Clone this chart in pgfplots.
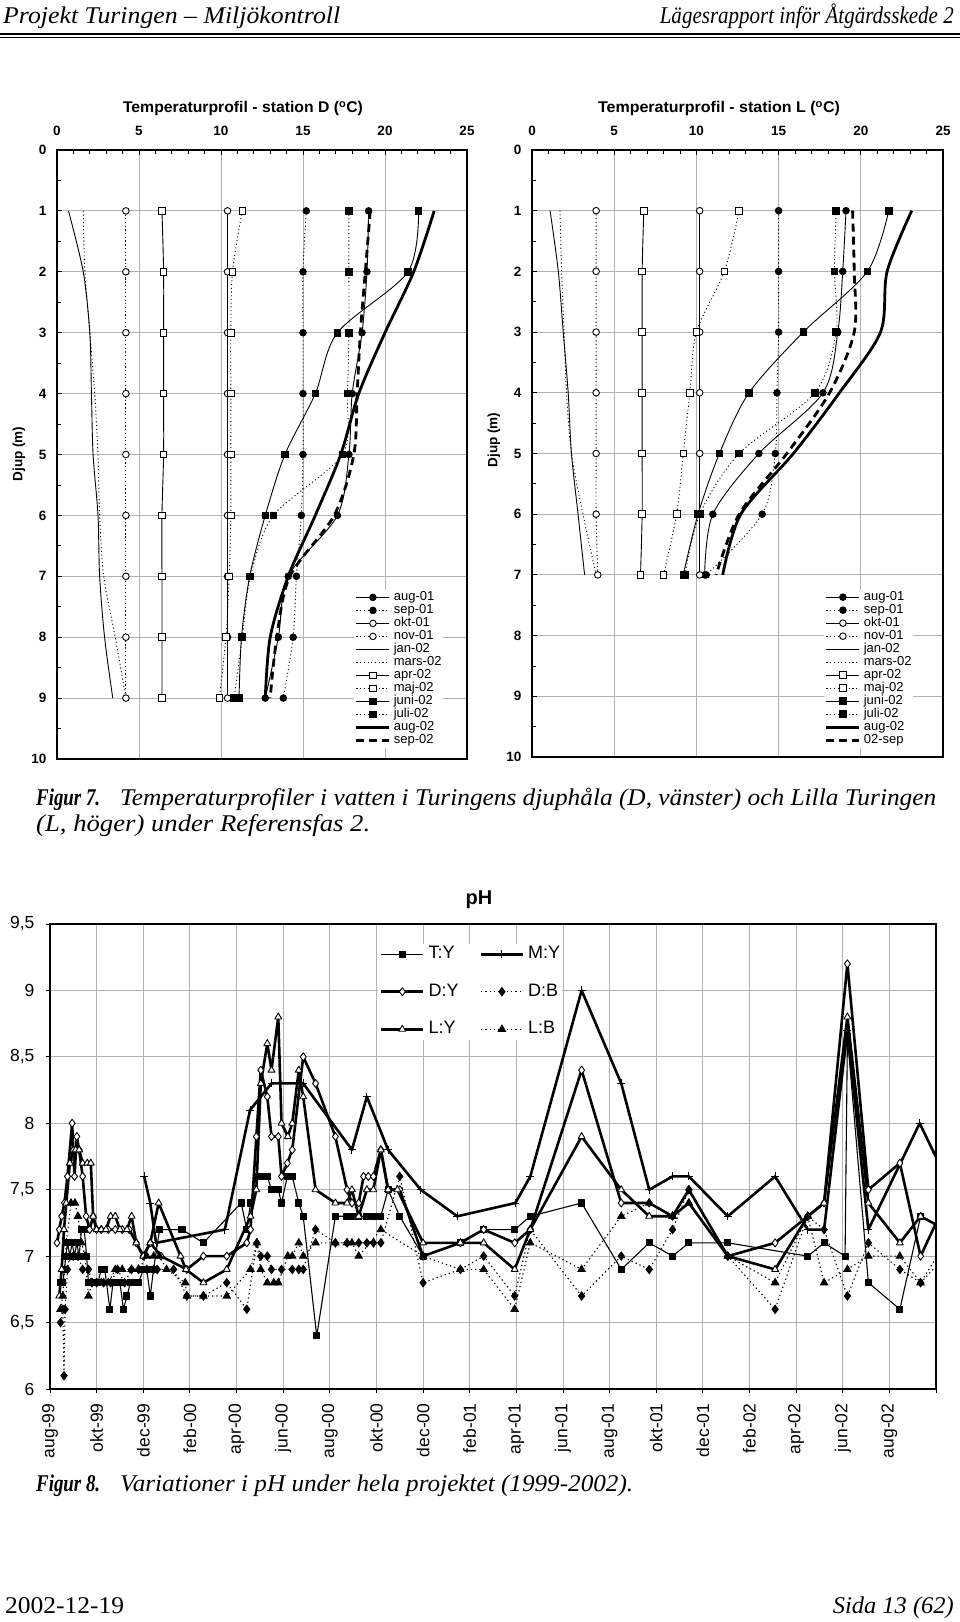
\documentclass[border=0pt]{standalone}
\usepackage{pgfplots}
\pgfplotsset{compat=1.18}
\usepackage{fontspec}
\setmainfont{Liberation Serif}
\newfontfamily\arial{Liberation Sans}
\newlength\fitlen
\newcommand\fitto[2]{\settowidth\fitlen{#2}\pgfmathsetmacro\fitsf{#1/\fitlen}\scalebox{\fitsf}[1]{#2}}
\newcommand\pf{\fontsize{24}{28}\selectfont}

\pgfplotsset{
  tempaxis/.style={
    scale only axis, anchor=south west,
    xmin=0, xmax=25, ymin=0, ymax=10, y dir=reverse,
    xtick={0,5,...,25}, ytick={0,1,...,10},
    minor x tick num=4, minor y tick num=1,
    xtick pos=right, xticklabel pos=right, ytick pos=left,
    tick align=inside, major tick length=5pt, minor tick length=4pt,
    grid=major, major grid style={black!30, line width=0.9pt},
    axis line style={line width=1.4pt},
    tick style={black, line width=0.8pt},
    ticklabel style={font=\arial\bfseries\fontsize{13.5}{14}\selectfont},
    /pgf/number format/assume math mode=true,
    xticklabel shift=11pt, yticklabel shift=7pt,
    legend cell align=left,
    legend image code/.code={\draw[mark repeat=2,mark phase=2,#1] plot coordinates {(0pt,0pt) (16.5pt,0pt) (33pt,0pt)};},
    legend style={anchor=north west, draw=none, fill=white, inner sep=1pt,
      font=\arial\fontsize{13}{13}\selectfont, row sep=0pt,
      nodes={inner sep=0pt, text height=9.5pt, text depth=3.5pt},
      /tikz/every odd column/.append style={column sep=3pt}},
  },
  sol/.style={black, line width=0.9pt, smooth, mark size=3.3pt},
  dot/.style={black, line width=0.9pt, dash pattern=on 1.1pt off 2.6pt, smooth, mark size=3.3pt},
  thk/.style={black, line width=2.8pt, smooth},
  TY/.style={black, line width=1.1pt, line join=round, mark=square*, mark size=3pt, mark options={fill=black}},
  MY/.style={black, line width=2.6pt, line join=round, mark=+, mark size=4pt, mark options={line width=0.9pt}},
  DY/.style={black, line width=2.6pt, line join=round, mark=diamond*, mark size=4pt, mark options={fill=white, line width=0.9pt}},
  DB/.style={black, line width=1.1pt, dash pattern=on 1.3pt off 3pt, mark=diamond*, mark size=4pt, mark options={solid, fill=black}},
  LY/.style={black, line width=2.6pt, line join=round, mark=triangle*, mark size=4pt, mark options={fill=white, line width=0.9pt}},
  LB/.style={black, line width=1.1pt, dash pattern=on 1.3pt off 3pt, mark=triangle*, mark size=4pt, mark options={solid, fill=black}},
}

\begin{document}
\begin{tikzpicture}
\path[use as bounding box, fill=white] (0pt,0pt) rectangle (960pt,1622pt);

% ---------- page header ----------
\node[anchor=base west, inner sep=0pt, font=\pf\itshape] at (3pt,1598pt) {\fitto{337}{Projekt Turingen – Miljökontroll}};
\node[anchor=base east, inner sep=0pt, font=\pf\itshape] at (954pt,1598pt) {\fitto{294}{Lägesrapport inför Åtgärdsskede 2}};
\draw[line width=1.8pt] (0pt,1588pt) -- (960pt,1588pt);
\draw[line width=0.6pt] (0pt,1584.5pt) -- (960pt,1584.5pt);

% ---------- titles and labels of the temperature charts ----------
\node[font=\arial\bfseries\fontsize{15.5}{16}\selectfont, inner sep=0pt] at (243pt,1513pt) {\fitto{240}{Temperaturprofil - station D (\textsuperscript{o}C)}};
\node[font=\arial\bfseries\fontsize{15.5}{16}\selectfont, inner sep=0pt] at (719pt,1513pt) {\fitto{242}{Temperaturprofil - station L (\textsuperscript{o}C)}};
\node[font=\arial\bfseries\fontsize{13.5}{14}\selectfont, rotate=90, inner sep=0pt] at (19pt,1168pt) {Djup (m)};
\node[font=\arial\bfseries\fontsize{13.5}{14}\selectfont, rotate=90, inner sep=0pt] at (494pt,1182pt) {Djup (m)};

% ---------- station D ----------
\begin{axis}[tempaxis, at={(57pt,863pt)}, width=410pt, height=609pt,
  legend style={at={(axis description cs:0.724,0.278)}},
  legend entries={aug-01,sep-01,okt-01,nov-01,jan-02,mars-02,apr-02,maj-02,juni-02,juli-02,aug-02,sep-02}]
\addplot[sol, mark=*, mark options={fill=black}] coordinates {(19.0,1)(18.9,2)(18.6,3)(18.0,4)(17.8,5)(17.1,6)(14.1,7)(13.5,8)(12.7,9)};
\addplot[dot, mark=*, mark options={solid,fill=black}] coordinates {(15.2,1)(15.0,2)(15.0,3)(15.0,4)(15.0,5)(14.9,6)(14.6,7)(14.4,8)(13.8,9)};
\addplot[sol, mark=*, mark options={fill=white}] coordinates {(10.4,1)(10.4,2)(10.4,3)(10.4,4)(10.4,5)(10.4,6)(10.4,7)(10.4,8)(10.4,9)};
\addplot[dot, mark=*, mark options={solid,fill=white}] coordinates {(4.2,1)(4.2,2)(4.2,3)(4.2,4)(4.2,5)(4.2,6)(4.2,7)(4.2,8)(4.2,9)};
\addplot[sol] coordinates {(0.7,1)(1.6,2)(2.0,3)(2.1,4)(2.2,5)(2.5,6)(2.6,7)(2.9,8)(3.4,9)};
\addplot[dot] coordinates {(1.6,1)(1.7,2)(2.0,3)(2.3,4)(2.5,5)(2.6,6)(2.85,7)(3.55,8)(4.2,9)};
\addplot[sol, mark=square*, mark options={fill=white}] coordinates {(6.4,1)(6.5,2)(6.5,3)(6.5,4)(6.5,5)(6.4,6)(6.4,7)(6.4,8)(6.4,9)};
\addplot[dot, mark=square*, mark options={solid,fill=white}] coordinates {(11.3,1)(10.7,2)(10.6,3)(10.6,4)(10.6,5)(10.6,6)(10.5,7)(10.3,8)(9.9,9)};
\addplot[sol, mark=square*, mark options={fill=black}] coordinates {(22.05,1)(21.4,2)(17.1,3)(15.75,4)(13.9,5)(12.7,6)(11.75,7)(11.25,8)(11.1,9)};
\addplot[dot, mark=square*, mark options={solid,fill=black}] coordinates {(17.8,1)(17.8,2)(17.8,3)(17.7,4)(17.4,5)(13.2,6)(11.8,7)(11.3,8)(10.8,9)};
\addplot[thk] coordinates {(23.0,1)(21.75,2)(20.0,3)(18.4,4)(17.3,5)(15.75,6)(14.1,7)(13.0,8)(12.7,9)};
\addplot[thk, dash pattern=on 8pt off 5pt] coordinates {(19.1,1)(18.8,2)(18.5,3)(18.3,4)(18.1,5)(16.9,6)(14.2,7)(13.4,8)(13.0,9)};
\end{axis}

% ---------- station L ----------
\begin{axis}[tempaxis, at={(532pt,865pt)}, width=411pt, height=607pt,
  legend style={at={(axis description cs:0.710,0.276)}},
  legend entries={aug-01,sep-01,okt-01,nov-01,jan-02,mars-02,apr-02,maj-02,juni-02,juli-02,aug-02,02-sep}]
\addplot[sol, mark=*, mark options={fill=black}] coordinates {(19.1,1)(18.9,2)(18.6,3)(17.7,4)(13.8,5)(11.0,6)(10.5,7)};
\addplot[dot, mark=*, mark options={solid,fill=black}] coordinates {(15.0,1)(15.0,2)(15.0,3)(14.9,4)(14.8,5)(14.0,6)(10.6,7)};
\addplot[sol, mark=*, mark options={fill=white}] coordinates {(10.2,1)(10.2,2)(10.2,3)(10.2,4)(10.2,5)(10.2,6)(10.2,7)};
\addplot[dot, mark=*, mark options={solid,fill=white}] coordinates {(3.9,1)(3.9,2)(3.9,3)(3.9,4)(3.9,5)(3.9,6)(4.0,7)};
\addplot[sol] coordinates {(1.1,1)(1.6,2)(1.9,3)(2.2,4)(2.4,5)(2.8,6)(3.2,7)};
\addplot[dot] coordinates {(1.7,1)(1.8,2)(1.95,3)(2.1,4)(2.4,5)(3.1,6)(3.9,7)};
\addplot[sol, mark=square*, mark options={fill=white}] coordinates {(6.8,1)(6.7,2)(6.7,3)(6.7,4)(6.7,5)(6.7,6)(6.6,7)};
\addplot[dot, mark=square*, mark options={solid,fill=white}] coordinates {(12.6,1)(11.7,2)(10.0,3)(9.6,4)(9.2,5)(8.8,6)(8.0,7)};
\addplot[sol, mark=square*, mark options={fill=black}] coordinates {(21.7,1)(20.4,2)(16.5,3)(13.2,4)(11.4,5)(10.1,6)(9.2,7)};
\addplot[dot, mark=square*, mark options={solid,fill=black}] coordinates {(18.5,1)(18.4,2)(18.5,3)(17.2,4)(12.6,5)(10.2,6)(9.3,7)};
\addplot[thk] coordinates {(23.1,1)(21.6,2)(21.2,3)(18.7,4)(15.9,5)(12.7,6)(11.6,7)};
\addplot[thk, dash pattern=on 8pt off 5pt] coordinates {(19.5,1)(19.6,2)(19.6,3)(18.1,4)(15.5,5)(12.6,6)(11.2,7)};
\end{axis}

% ---------- caption 7 ----------
\node[anchor=base west, inner sep=0pt, font=\pf\bfseries\itshape] at (36pt,816pt) {\fitto{64}{Figur 7.}};
\node[anchor=base west, inner sep=0pt, font=\pf\itshape] at (120pt,816pt) {\fitto{816}{Temperaturprofiler i vatten i Turingens djuphåla (D, vänster) och Lilla Turingen}};
\node[anchor=base west, inner sep=0pt, font=\pf\itshape] at (36pt,790pt) {\fitto{334}{(L, höger) under Referensfas 2.}};

% ---------- pH chart ----------
\node[font=\arial\bfseries\fontsize{20}{20}\selectfont, inner sep=0pt] at (479pt,722pt) {pH};
\begin{axis}[
  at={(50pt,233pt)}, anchor=south west, scale only axis, width=886pt, height=465pt,
  xmin=0, xmax=38, ymin=6, ymax=9.5,
  xtick={0,2,...,38},
  xticklabels={aug-99,okt-99,dec-99,feb-00,apr-00,jun-00,aug-00,okt-00,dec-00,feb-01,apr-01,jun-01,aug-01,okt-01,dec-01,feb-02,apr-02,jun-02,aug-02,{}},
  ytick={6,6.5,7,7.5,8,8.5,9,9.5},
  yticklabels={6,{6,5},7,{7,5},8,{8,5},9,{9,5}},
  xtick pos=left, ytick pos=left, tick align=outside, major tick length=4pt,
  grid=major, major grid style={black!30, line width=0.9pt},
  axis line style={line width=1.4pt},
  tick style={black, line width=0.8pt},
  ticklabel style={font=\arial\fontsize{17.5}{18}\selectfont},
  xticklabel style={rotate=90, anchor=east},
  xticklabel shift=7pt, yticklabel shift=8pt,
  legend columns=2, legend cell align=left,
  legend image code/.code={\draw[mark repeat=2,mark phase=2,#1] plot coordinates {(0pt,0pt) (21pt,0pt) (42pt,0pt)};},
  legend style={at={(axis description cs:0.370,0.958)}, anchor=north west, draw=none, fill=white, inner sep=2pt,
     font=\arial\fontsize{18}{18}\selectfont, row sep=20.5pt,
     nodes={inner sep=0pt, text height=13pt, text depth=4pt},
     /tikz/every odd column/.append style={column sep=4pt},
     /tikz/every even column/.append style={column sep=21pt}},
  legend entries={T:Y,M:Y,D:Y,D:B,L:Y,L:B},
]
\addplot[TY] coordinates {(0.45,6.8)(0.55,6.8)(0.62,6.9)(0.68,7.0)(0.75,7.1)(0.85,7.0)(0.95,7.1)(1.05,7.0)(1.15,7.1)(1.25,7.0)(1.35,7.2)(1.47,7.2)(1.57,7.0)(1.65,6.8)(1.75,6.8)(1.9,6.8)(2.05,6.8)(2.2,6.9)(2.35,6.9)(2.57,6.6)(2.7,6.8)(2.85,6.8)(3.0,6.8)(3.15,6.6)(3.3,6.7)(3.45,6.8)(3.6,6.8)(3.8,6.8)(4.0,6.9)(4.15,6.9)(4.3,6.7)(4.44,6.9)(4.7,7.2)(5.66,7.2)(6.58,7.1)(8.2,7.4)(8.44,7.2)(8.6,7.4)(8.85,7.6)(9.04,7.6)(9.32,7.6)(9.5,7.5)(9.79,7.5)(9.93,7.4)(10.18,7.6)(10.39,7.6)(10.67,7.4)(10.86,7.3)(11.44,6.4)(12.24,7.3)(12.74,7.3)(12.95,7.3)(13.24,7.3)(13.59,7.3)(13.87,7.3)(14.19,7.3)(14.5,7.5)(15.0,7.3)(16.0,7.0)(17.6,7.1)(18.6,7.2)(19.93,7.2)(20.6,7.3)(22.8,7.4)(24.5,6.9)(25.7,7.1)(26.7,7.0)(27.4,7.1)(29.07,7.1)(32.5,7.0)(33.2,7.1)(34.1,7.0)(34.2,8.65)(35.1,6.8)(36.45,6.6)(37.34,7.3)(38.4,7.2)};
\addplot[MY] coordinates {(4.04,7.6)(4.3,7.4)(4.55,7.1)(7.5,7.2)(8.58,8.1)(9.5,8.3)(10.86,8.3)(12.95,7.8)(13.59,8.2)(14.5,7.8)(15.9,7.5)(17.47,7.3)(19.96,7.4)(20.6,7.6)(22.8,9.0)(24.5,8.3)(25.7,7.5)(26.7,7.6)(27.4,7.6)(29.07,7.3)(31.1,7.6)(32.5,7.2)(33.2,7.2)(34.2,8.7)(35.1,7.2)(37.3,8.0)(38.4,7.6)};
\addplot[DY] coordinates {(0.3,7.1)(0.4,7.2)(0.5,7.3)(0.62,7.4)(0.75,7.6)(0.95,8.0)(1.05,7.6)(1.15,7.9)(1.25,7.8)(1.4,7.6)(1.55,7.3)(1.7,7.2)(1.85,7.3)(2.0,7.2)(2.2,7.2)(2.5,7.2)(2.8,7.2)(3.1,7.2)(3.4,7.2)(3.7,7.1)(4.0,7.0)(4.3,7.1)(4.76,7.0)(5.87,6.9)(6.58,7.0)(7.58,7.0)(8.44,7.1)(8.6,7.2)(8.85,7.9)(9.04,8.4)(9.32,8.2)(9.5,7.9)(9.79,7.9)(9.93,7.6)(10.18,7.7)(10.39,7.8)(10.86,8.5)(11.39,8.3)(12.24,7.9)(12.74,7.5)(12.95,7.4)(13.24,7.4)(13.45,7.6)(13.65,7.6)(13.87,7.6)(14.19,7.8)(14.5,7.5)(15.0,7.5)(16.0,7.0)(17.6,7.1)(18.6,7.2)(19.93,7.1)(20.6,7.2)(22.8,8.4)(24.5,7.4)(25.7,7.4)(26.7,7.3)(27.4,7.5)(29.07,7.0)(31.1,7.1)(32.5,7.3)(33.2,7.4)(34.2,9.2)(35.1,7.5)(36.45,7.7)(37.34,7.0)(38.4,7.4)};
\addplot[DB] coordinates {(0.45,6.5)(0.55,6.6)(0.6,6.1)(0.65,6.6)(0.75,6.9)(0.85,7.0)(1.0,7.0)(1.2,7.0)(1.4,6.9)(1.65,6.9)(1.8,6.8)(2.0,6.8)(2.3,6.8)(2.6,6.8)(2.9,6.9)(3.2,6.8)(3.5,6.9)(3.8,6.9)(4.15,6.9)(4.45,6.9)(4.6,6.9)(5.3,6.9)(5.87,6.7)(6.58,6.7)(7.58,6.8)(8.44,6.6)(8.87,7.1)(9.04,7.0)(9.32,7.0)(9.5,6.9)(9.93,6.9)(10.39,6.9)(10.67,6.9)(10.86,6.9)(11.39,7.2)(12.24,7.1)(12.74,7.1)(13.24,7.1)(13.59,7.1)(13.87,7.1)(14.19,7.1)(15.0,7.6)(16.0,6.8)(17.6,6.9)(18.6,7.0)(19.93,6.7)(20.6,7.2)(22.8,6.7)(24.5,7.0)(25.7,6.9)(26.7,7.2)(27.4,7.5)(29.07,7.0)(31.1,6.6)(32.5,7.3)(33.2,7.2)(34.2,6.7)(35.1,7.1)(36.45,6.9)(37.34,6.8)(38.4,7.1)};
\addplot[LY] coordinates {(0.4,6.7)(0.5,6.9)(0.6,7.2)(0.7,7.4)(0.85,7.7)(1.0,7.8)(1.1,7.8)(1.25,7.8)(1.4,7.7)(1.6,7.7)(1.75,7.7)(1.85,7.3)(2.0,7.2)(2.2,7.2)(2.4,7.2)(2.6,7.3)(2.8,7.3)(3.0,7.2)(3.3,7.2)(3.5,7.3)(3.7,7.1)(4.0,7.0)(4.3,7.1)(4.66,7.4)(5.6,7.0)(5.83,6.9)(6.58,6.8)(7.58,6.9)(8.6,7.3)(8.85,7.5)(9.04,8.3)(9.32,8.6)(9.5,8.4)(9.79,8.8)(9.93,8.0)(10.2,7.9)(10.39,8.0)(10.67,8.4)(10.86,8.2)(11.39,7.5)(12.24,7.4)(12.74,7.4)(12.95,7.5)(13.24,7.3)(13.59,7.5)(13.87,7.5)(14.19,7.8)(14.5,7.5)(14.9,7.5)(16.0,7.1)(17.6,7.1)(18.6,7.1)(19.93,6.9)(20.6,7.2)(22.8,7.9)(24.5,7.5)(25.7,7.3)(26.7,7.3)(27.4,7.4)(29.07,7.0)(31.1,6.9)(32.5,7.3)(33.2,7.4)(34.2,8.8)(35.1,7.4)(36.45,7.1)(37.34,7.3)(38.4,7.2)};
\addplot[LB] coordinates {(0.45,6.6)(0.55,6.7)(0.7,7.1)(0.9,7.4)(1.07,7.4)(1.2,7.3)(1.35,7.1)(1.5,7.0)(1.65,6.7)(1.8,6.8)(2.0,6.8)(2.2,6.8)(2.5,6.8)(2.8,6.9)(3.1,6.9)(3.5,6.9)(3.8,6.9)(4.15,7.0)(4.45,7.0)(4.7,7.0)(5.0,6.9)(5.8,6.8)(5.87,6.7)(6.58,6.7)(7.58,6.7)(8.6,6.9)(8.87,7.1)(9.04,6.9)(9.32,6.8)(9.6,6.8)(9.79,6.8)(10.2,7.0)(10.39,7.0)(10.67,7.1)(10.86,7.0)(11.39,7.1)(12.24,7.1)(12.74,7.1)(12.95,7.1)(13.24,7.0)(14.19,7.2)(16.0,7.0)(17.6,6.9)(18.6,6.9)(19.93,6.6)(20.6,7.1)(22.8,6.9)(24.5,7.3)(25.7,7.4)(26.7,7.3)(27.4,7.4)(29.07,7.0)(31.1,6.8)(32.5,7.3)(33.2,6.8)(34.2,6.9)(35.1,7.0)(36.45,7.0)(37.34,6.8)(38.4,7.0)};
\end{axis}

% ---------- caption 8 ----------
\node[anchor=base west, inner sep=0pt, font=\pf\bfseries\itshape] at (36pt,130pt) {\fitto{64}{Figur 8.}};
\node[anchor=base west, inner sep=0pt, font=\pf\itshape] at (120pt,130pt) {\fitto{513}{Variationer i pH under hela projektet (1999-2002).}};

% ---------- footer ----------
\node[anchor=base west, inner sep=0pt, font=\pf] at (5pt,9pt) {\fitto{119}{2002-12-19}};
\node[anchor=base east, inner sep=0pt, font=\pf\itshape] at (954pt,9pt) {\fitto{121}{Sida 13 (62)}};
\end{tikzpicture}
\end{document}
